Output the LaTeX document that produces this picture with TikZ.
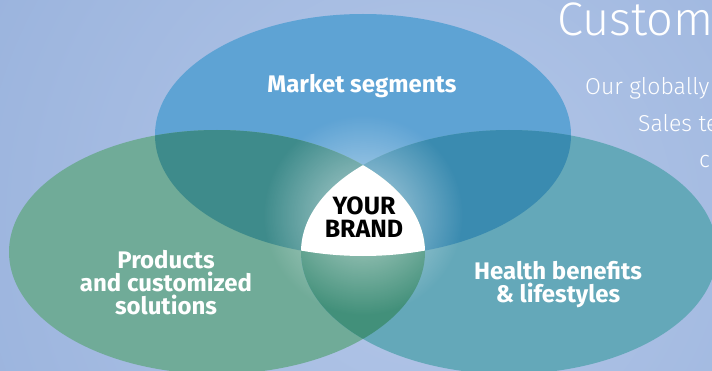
\documentclass[tikz,border=0pt]{standalone}
\usepackage{fontspec}
\setmainfont{Fira Sans}
\newfontfamily\thinfont{Fira Sans Light}
\usetikzlibrary{fadings}
\definecolor{bgin}{HTML}{B4C7E8}
\definecolor{bgout}{HTML}{86A4D5}
\definecolor{segblue}{HTML}{5EA3D4}
\definecolor{prodgreen}{HTML}{70AB98}
\definecolor{healthteal}{HTML}{64A8B9}
\definecolor{segprod}{HTML}{3E8B8B}
\definecolor{seghealth}{HTML}{3A8BB0}
\definecolor{prodhealth}{HTML}{42907A}
\tikzfading[name=glowfade, inner color=transparent!0, outer color=transparent!100]
\begin{document}
\begin{tikzpicture}[x=1pt,y=1pt,line join=round]
	\tikzset{circlabel/.style={text=white,align=center,inner sep=0pt,font=\bfseries\fontsize{24}{23}\selectfont},
		sidetext/.style={text=white,anchor=base west,inner sep=0pt,font=\thinfont\fontsize{23}{23}\selectfont}}
	\useasboundingbox (0,0) rectangle (712,370);
	\clip (0,0) rectangle (712,370);
	% background
	\shade[inner color=bgin,outer color=bgout] (430,150) circle (900);
	\coordinate (segc) at (363,235);
	\coordinate (prodc) at (217,118);
	\coordinate (healthc) at (509,118);
	% the three sets
	\fill[segblue] (segc) ellipse [x radius=208, y radius=121];
	\fill[prodgreen] (prodc) ellipse [x radius=208, y radius=122];
	\fill[healthteal] (healthc) ellipse [x radius=208, y radius=122];
	\begin{scope}
		\clip (segc) ellipse [x radius=208, y radius=121];
		\fill[segprod] (prodc) ellipse [x radius=208, y radius=122];
		\fill[seghealth] (healthc) ellipse [x radius=208, y radius=122];
	\end{scope}
	\begin{scope}
		\clip (prodc) ellipse [x radius=208, y radius=122];
		\fill[prodhealth] (healthc) ellipse [x radius=208, y radius=122];
	\end{scope}
	% glow round the middle
	\fill[white,path fading=glowfade,fill opacity=0.6] (363,155) circle (100);
	\begin{scope}
		\clip (segc) ellipse [x radius=208, y radius=121];
		\clip (prodc) ellipse [x radius=208, y radius=122];
		\fill[white] (healthc) ellipse [x radius=208, y radius=122];
	\end{scope}
	% labels
	\node[circlabel] (segments) at (362,284) {Market segments};
	\node[circlabel] (products) at (166,87) {Products\\and customized\\solutions};
	\node[circlabel] (health) at (558,85) {Health benefits\\\& lifestyles};
	\node[circlabel,text=black,font=\bfseries\fontsize{25}{23}\selectfont] (brand) at (364,153) {YOUR\\BRAND};
	% text on the right, cut by the edge
	\node[sidetext,font=\thinfont\fontsize{47}{47}\selectfont] (title) at (557,334) {Custom};
	\node[sidetext] (line1) at (585,275) {Our globally};
	\node[sidetext] (line2) at (638,238) {Sales te};
	\node[sidetext] (line3) at (699,202) {cr};
\end{tikzpicture}
\end{document}
